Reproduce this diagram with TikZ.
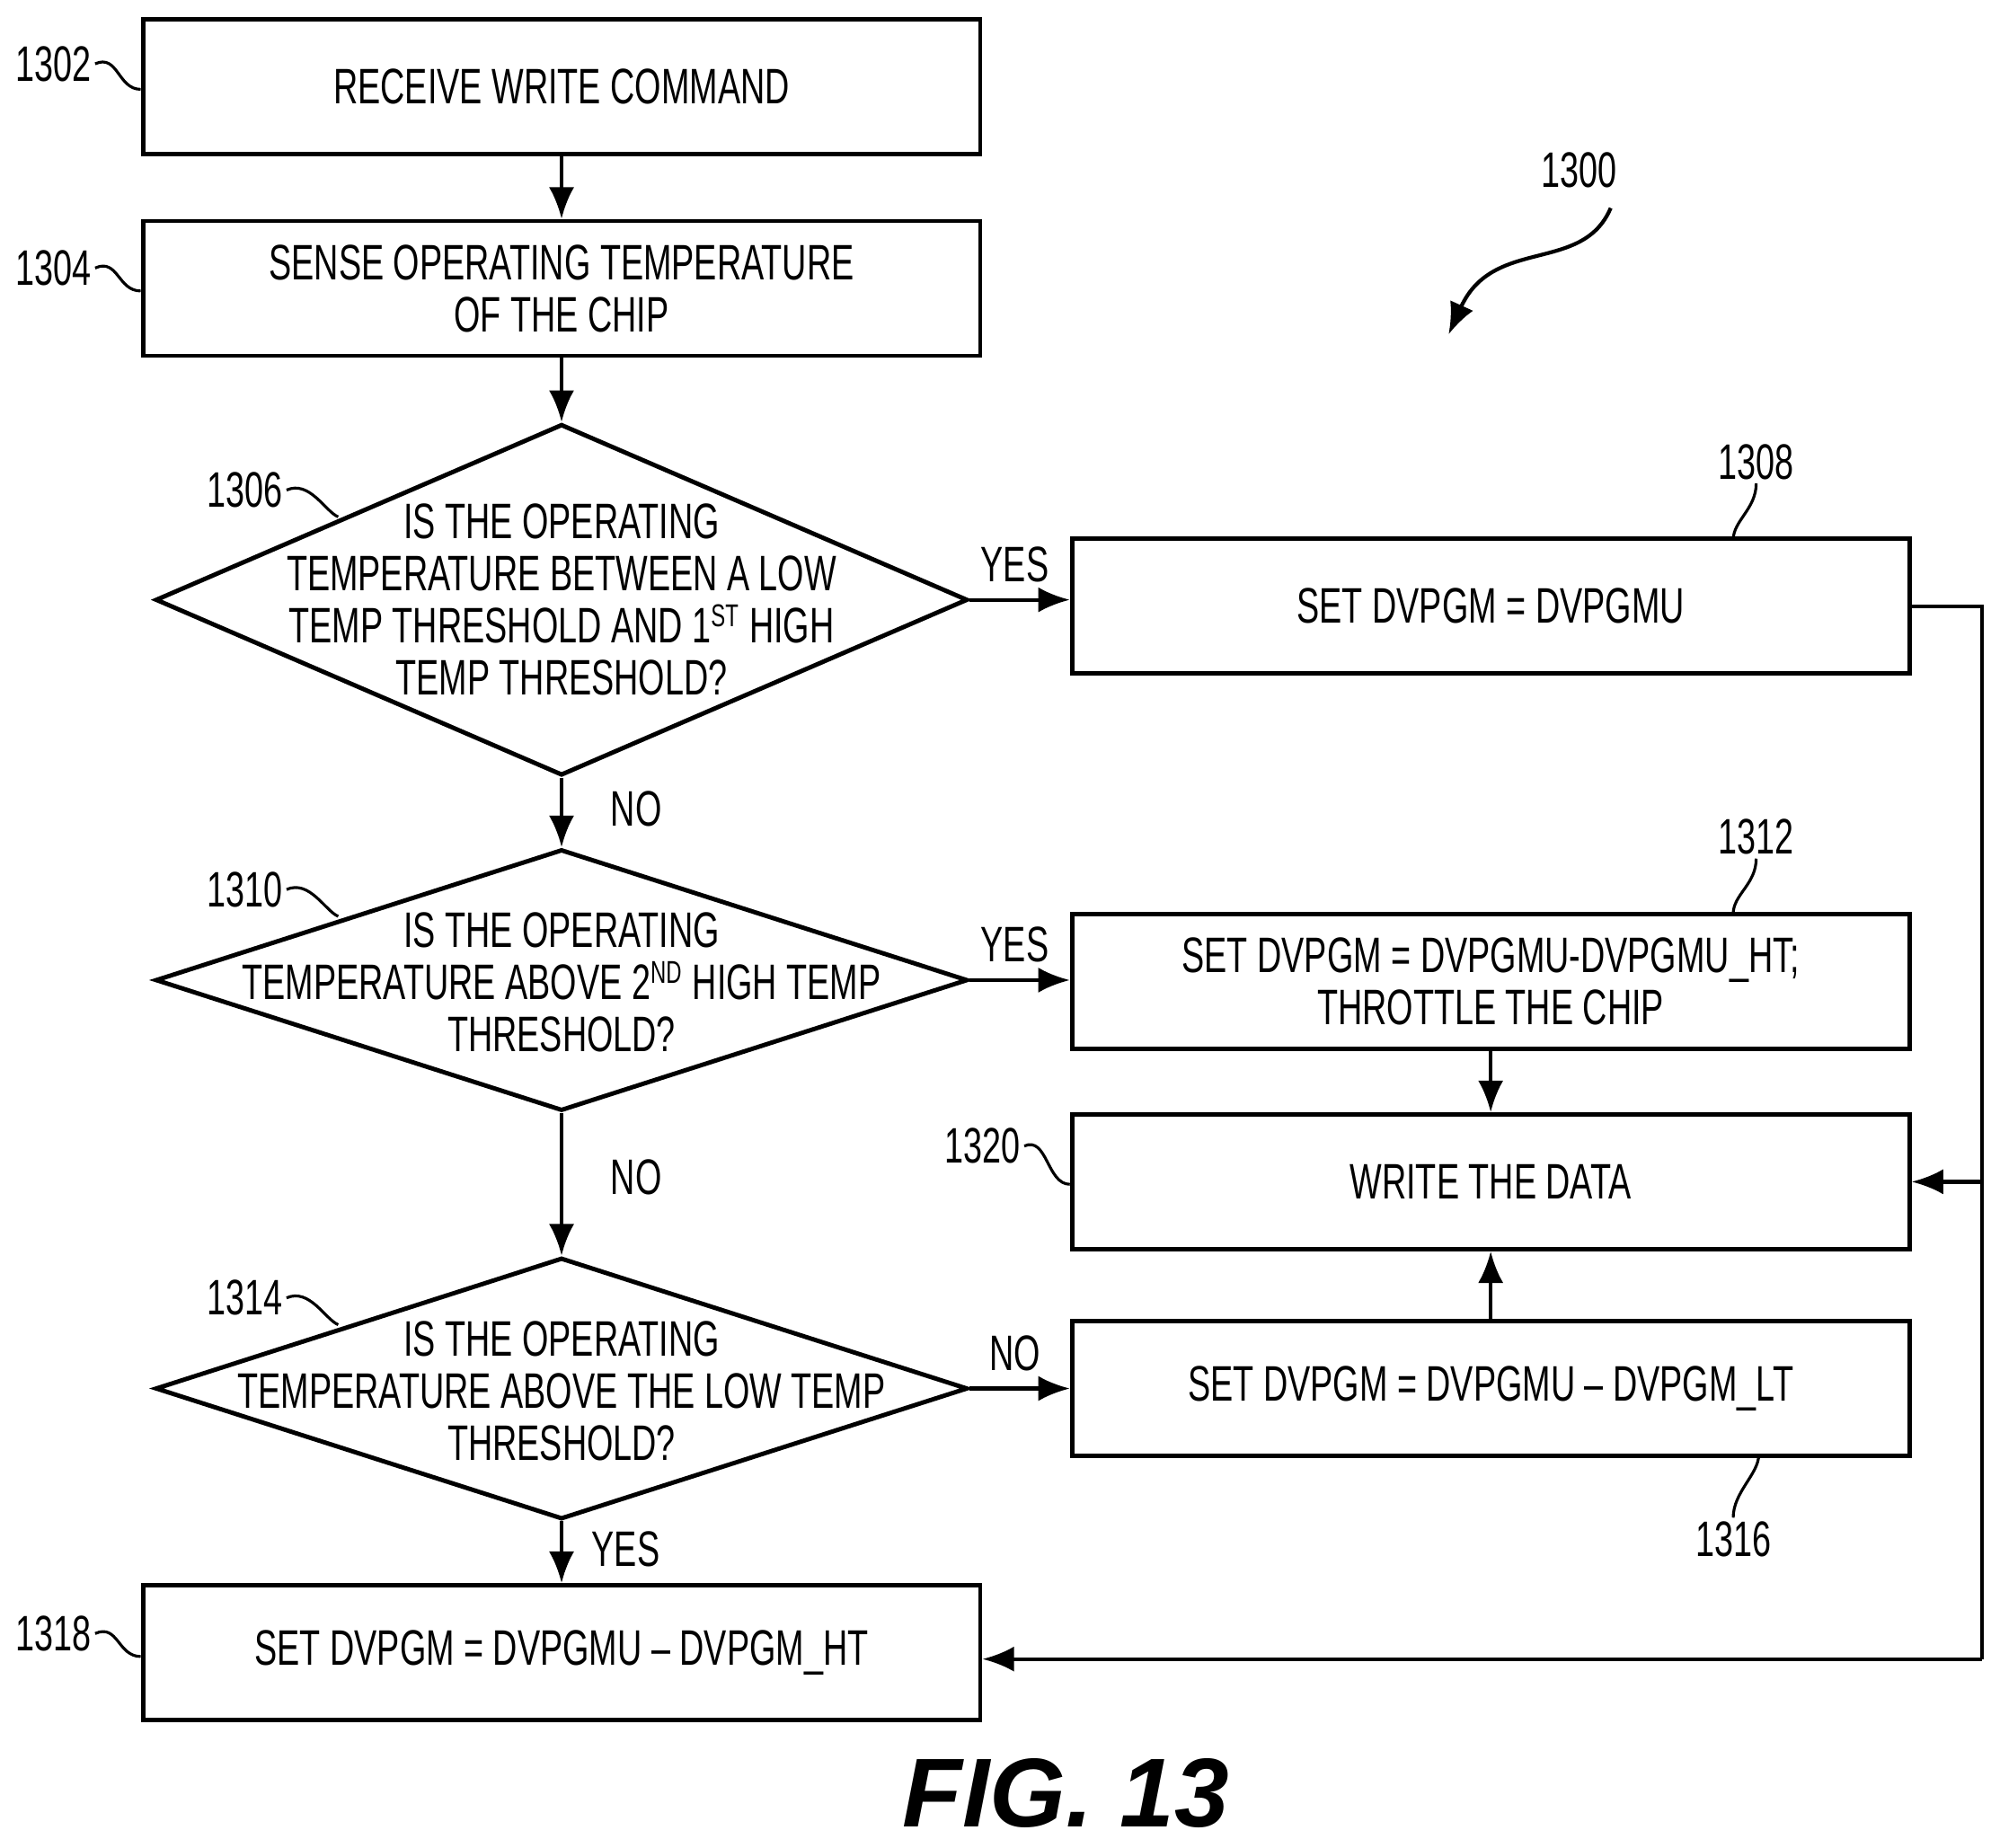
\documentclass[tikz,border=0pt]{standalone}
\usepackage{fontspec}
\setmainfont{Liberation Sans}[FakeStretch=0.68]
\newfontfamily\figfont{Liberation Sans}
\usetikzlibrary{shapes.geometric,arrows.meta}
\tikzset{
  blk/.style={draw, line width=1.4pt, minimum width=9.32cm, minimum height=1.5cm, align=center, inner sep=0pt},
  dec/.style={draw, shape=diamond, line width=1.4pt, inner sep=0pt, minimum width=9.04cm},
  txt/.style={align=center, inner sep=0pt},
  lbl/.style={inner sep=1pt},
  flow/.style={line width=1.2pt, -{Latex[length=10pt,width=8pt]}},
  wire/.style={line width=1.2pt},
  lead/.style={line width=0.9pt},
}
\newcommand{\sups}[1]{\textsuperscript{\fontsize{10}{10}\selectfont #1}}
\begin{document}
\begin{tikzpicture}[x=0.01421cm, y=-0.01421cm, font=\fontsize{15.8}{16.5}\selectfont]
\useasboundingbox (0,0) rectangle (1560,1448);
% boxes
\node[blk] (b1302) at (440,68) {RECEIVE WRITE COMMAND};
\node[blk] (b1304) at (440,226) {SENSE OPERATING TEMPERATURE\\OF THE CHIP};
\node[blk] (b1308) at (1168,475) {SET DVPGM = DVPGMU};
\node[blk] (b1312) at (1168,769) {SET DVPGM = DVPGMU-DVPGMU\_HT;\\THROTTLE THE CHIP};
\node[blk] (b1320) at (1168,926) {WRITE THE DATA};
\node[blk] (b1316) at (1168,1088) {SET DVPGM = DVPGMU -- DVPGM\_LT};
\node[blk] (b1318) at (440,1295) {SET DVPGM = DVPGMU -- DVPGM\_HT};
% decisions
\node[dec, minimum height=3.91cm] (d1306) at (440,470) {};
\node[txt] at (440,470) {IS THE OPERATING\\TEMPERATURE BETWEEN A LOW\\TEMP THRESHOLD AND 1\sups{ST} HIGH\\TEMP THRESHOLD?};
\node[dec, minimum height=2.91cm] (d1310) at (440,768) {};
\node[txt] at (440,770) {IS THE OPERATING\\TEMPERATURE ABOVE 2\sups{ND} HIGH TEMP\\THRESHOLD?};
\node[dec, minimum height=2.91cm] (d1314) at (440,1088) {};
\node[txt] at (440,1090) {IS THE OPERATING\\TEMPERATURE ABOVE THE LOW TEMP\\THRESHOLD?};
% flow
\draw[flow] (b1302) -- (b1304);
\draw[flow] (b1304) -- (d1306);
\draw[flow] (d1306) -- node[lbl, right=14pt, pos=0.45] {NO} (d1310);
\draw[flow] (d1310) -- node[lbl, right=14pt, pos=0.45] {NO} (d1314);
\draw[flow] (d1314) -- node[lbl, right=8pt, pos=0.45] {YES} (b1318);
\draw[flow] (d1306.east) -- node[lbl, above=4pt, pos=0.45] {YES} (b1308.west |- d1306.east);
\draw[flow] (d1310.east) -- node[lbl, above=4pt, pos=0.45] {YES} (b1312.west |- d1310.east);
\draw[flow] (d1314.east) -- node[lbl, above=4pt, pos=0.45] {NO} (b1316.west |- d1314.east);
\draw[flow] (b1312) -- (b1320);
\draw[flow] (b1316) -- (b1320);
\coordinate (turn) at (1553,1300);
\coordinate (join) at (1553,926);
\draw[wire] (b1308.east) -| (turn);
\draw[flow] (turn) -- (b1318.east |- turn);
\draw[flow] (join) -- (b1320.east);
% reference labels
\node[lbl] (l1302) at (42,50) {1302};
\draw[lead] (l1302.east) .. controls +(18,-8) and +(-18,0) .. (b1302.west |- 0,70);
\node[lbl] (l1304) at (42,210) {1304};
\draw[lead] (l1304.east) .. controls +(18,-8) and +(-18,0) .. (b1304.west |- 0,228);
\node[lbl] (l1318) at (42,1280) {1318};
\draw[lead] (l1318.east) .. controls +(18,-8) and +(-18,0) .. (b1318.west |- 0,1298);
\node[lbl] (l1320) at (770,898) {1320};
\draw[lead] (l1320.east) .. controls +(18,-8) and +(-18,0) .. (b1320.west |- 0,928);
\node[lbl] (l1306) at (192,384) {1306};
\draw[lead] (l1306.east) .. controls +(18,-8) and +(-10,-4) .. (265,405);
\node[lbl] (l1310) at (192,697) {1310};
\draw[lead] (l1310.east) .. controls +(18,-8) and +(-10,-4) .. (265,718);
\node[lbl] (l1314) at (192,1017) {1314};
\draw[lead] (l1314.east) .. controls +(18,-8) and +(-10,-4) .. (265,1038);
\node[lbl] (l1308) at (1376,362) {1308};
\draw[lead] (l1308.south) .. controls +(0,20) and +(0,-15) .. (1358,423);
\node[lbl] (l1312) at (1376,656) {1312};
\draw[lead] (l1312.south) .. controls +(0,20) and +(0,-15) .. (1358,716);
\node[lbl] (l1316) at (1358,1206) {1316};
\draw[lead] (l1316.north) .. controls +(0,-20) and +(0,15) .. (1378,1140);
\node[lbl] (l1300) at (1237,133) {1300};
\coordinate (a1300) at (1135,262);
\draw[flow] (1262,163) .. controls (1240,215) and (1170,185) .. (a1300);
% figure title
\node[lbl, font=\figfont\fontsize{31}{31}\selectfont\bfseries\itshape] (fig) at (835,1405) {FIG. 13};
\end{tikzpicture}
\end{document}
